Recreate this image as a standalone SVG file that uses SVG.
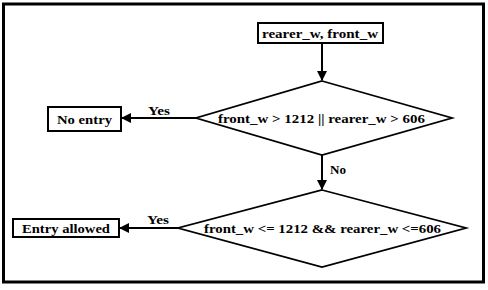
<svg xmlns="http://www.w3.org/2000/svg" width="488" height="290" viewBox="0 0 488 290">
<style>
text{font-family:"Liberation Serif","Times New Roman",serif;font-weight:bold;fill:#000}
.box{fill:#fff;stroke:#000;stroke-width:2}
.dia{fill:#fff;stroke:#000;stroke-width:1.8}
.edge{stroke:#000;stroke-width:2;fill:none}
</style>
<defs>
<marker id="ah" viewBox="0 0 10 10" refX="9" refY="5" markerWidth="5" markerHeight="5" orient="auto">
<path d="M0,0 L10,5 L0,10 Z" fill="#000"/>
</marker>
</defs>
<rect x="0" y="0" width="488" height="290" fill="#fff"/>
<rect x="3.5" y="4" width="480" height="278" fill="none" stroke="#000" stroke-width="3"/>
<g id="input">
<rect class="box" x="258" y="23" width="125" height="20"/>
<text x="262" y="38" font-size="13.5" textLength="116" lengthAdjust="spacingAndGlyphs">rearer_w, front_w</text>
</g>
<g id="cond1">
<polygon class="dia" points="322,81 452,118 322,155 196,118"/>
<text x="218" y="123" font-size="13.5" textLength="207" lengthAdjust="spacingAndGlyphs">front_w &gt; 1212 || rearer_w &gt; 606</text>
</g>
<g id="noentry">
<rect class="box" x="48" y="107" width="73" height="24"/>
<text x="57" y="123.5" font-size="13.5" textLength="55" lengthAdjust="spacingAndGlyphs">No entry</text>
</g>
<g id="cond2">
<polygon class="dia" points="322,190 466,228 322,267 178,228"/>
<text x="204" y="233" font-size="13.5" textLength="237" lengthAdjust="spacingAndGlyphs">front_w &lt;= 1212 &amp;&amp; rearer_w &lt;=606</text>
</g>
<g id="allowed">
<rect class="box" x="13" y="219" width="106" height="18"/>
<text x="22" y="232.5" font-size="13.5" textLength="88" lengthAdjust="spacingAndGlyphs">Entry allowed</text>
</g>
<g id="connectors">
<line class="edge" x1="322" y1="43" x2="322" y2="80" marker-end="url(#ah)"/>
<line class="edge" x1="196" y1="118" x2="122" y2="118" marker-end="url(#ah)"/>
<line class="edge" x1="322" y1="155" x2="322" y2="189" marker-end="url(#ah)"/>
<line class="edge" x1="178" y1="228" x2="120" y2="228" marker-end="url(#ah)"/>
<text x="148" y="115" font-size="12" textLength="22" lengthAdjust="spacingAndGlyphs">Yes</text>
<text x="330" y="174" font-size="12" textLength="16" lengthAdjust="spacingAndGlyphs">No</text>
<text x="147" y="224" font-size="12" textLength="22" lengthAdjust="spacingAndGlyphs">Yes</text>
</g>
</svg>
